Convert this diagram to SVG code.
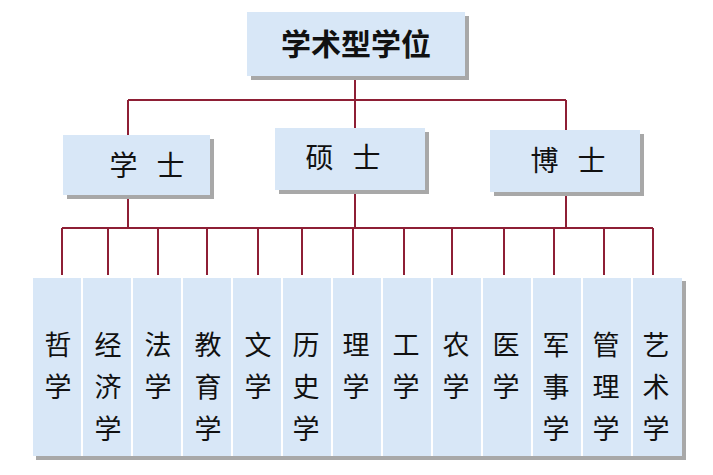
<svg xmlns="http://www.w3.org/2000/svg" width="713" height="475" viewBox="0 0 713 475">
<defs><style>
.b{fill:#d8e7f7}
.s{fill:#a8a8a8}
.c line{stroke:#8e1f35;stroke-width:2}
text{font-family:"Noto Sans CJK SC",sans-serif;fill:#111;text-anchor:middle}
.t{font-size:30px;font-weight:bold}
.m{font-size:28px}
.l{font-size:27px}
</style></defs>
<rect width="713" height="475" fill="#fff"/>
<g class="c">
<line x1="355" y1="77" x2="355" y2="128"/>
<line x1="128" y1="100" x2="566" y2="100"/>
<line x1="128" y1="100" x2="128" y2="135"/>
<line x1="566" y1="100" x2="566" y2="130"/>
<line x1="128" y1="195" x2="128" y2="228"/>
<line x1="355" y1="190" x2="355" y2="228"/>
<line x1="566" y1="193" x2="566" y2="228"/>
<line x1="62" y1="228" x2="653" y2="228"/>
<line x1="62" y1="228" x2="62" y2="275"/><line x1="108" y1="228" x2="108" y2="275"/><line x1="158" y1="228" x2="158" y2="275"/><line x1="207" y1="228" x2="207" y2="275"/><line x1="258" y1="228" x2="258" y2="275"/><line x1="302" y1="228" x2="302" y2="275"/><line x1="353" y1="228" x2="353" y2="275"/><line x1="404" y1="228" x2="404" y2="275"/><line x1="452" y1="228" x2="452" y2="275"/><line x1="504" y1="228" x2="504" y2="275"/><line x1="554" y1="228" x2="554" y2="275"/><line x1="604" y1="228" x2="604" y2="275"/><line x1="653" y1="228" x2="653" y2="275"/>
</g>
<g id="root"><rect class="s" x="251" y="16" width="218" height="64"/><rect class="b" x="247" y="12" width="218" height="64"/><text class="t" x="356" y="55">学术型学位</text></g>
<g id="xueshi"><rect class="s" x="67" y="139" width="147" height="60"/><rect class="b" x="63" y="135" width="147" height="60"/><text class="m" x="147" y="176" xml:space="preserve">学   士</text></g>
<g id="shuoshi"><rect class="s" x="279" y="132" width="150" height="62"/><rect class="b" x="275" y="128" width="150" height="62"/><text class="m" x="343" y="168" xml:space="preserve">硕   士</text></g>
<g id="boshi"><rect class="s" x="494" y="134" width="150" height="62"/><rect class="b" x="490" y="130" width="150" height="62"/><text class="m" x="568" y="171" xml:space="preserve">博   士</text></g>
<g id="leaves">
<rect class="s" x="36" y="456" width="649" height="4"/>
<rect class="s" x="682" y="281" width="4" height="179"/>
<g id="l1"><rect class="b" x="33" y="278" width="48" height="178"/><text class="l" x="58" y="355">哲</text><text class="l" x="58" y="397">学</text></g>
<g id="l2"><rect class="b" x="83" y="278" width="48" height="178"/><text class="l" x="108" y="355">经</text><text class="l" x="108" y="397">济</text><text class="l" x="108" y="439">学</text></g>
<g id="l3"><rect class="b" x="133" y="278" width="48" height="178"/><text class="l" x="158" y="355">法</text><text class="l" x="158" y="397">学</text></g>
<g id="l4"><rect class="b" x="183" y="278" width="48" height="178"/><text class="l" x="208" y="355">教</text><text class="l" x="208" y="397">育</text><text class="l" x="208" y="439">学</text></g>
<g id="l5"><rect class="b" x="233" y="278" width="48" height="178"/><text class="l" x="258" y="355">文</text><text class="l" x="258" y="397">学</text></g>
<g id="l6"><rect class="b" x="283" y="278" width="48" height="178"/><text class="l" x="306" y="355">历</text><text class="l" x="306" y="397">史</text><text class="l" x="306" y="439">学</text></g>
<g id="l7"><rect class="b" x="333" y="278" width="48" height="178"/><text class="l" x="356" y="355">理</text><text class="l" x="356" y="397">学</text></g>
<g id="l8"><rect class="b" x="383" y="278" width="48" height="178"/><text class="l" x="406" y="355">工</text><text class="l" x="406" y="397">学</text></g>
<g id="l9"><rect class="b" x="433" y="278" width="48" height="178"/><text class="l" x="456" y="355">农</text><text class="l" x="456" y="397">学</text></g>
<g id="l10"><rect class="b" x="483" y="278" width="48" height="178"/><text class="l" x="506" y="355">医</text><text class="l" x="506" y="397">学</text></g>
<g id="l11"><rect class="b" x="533" y="278" width="48" height="178"/><text class="l" x="556" y="355">军</text><text class="l" x="556" y="397">事</text><text class="l" x="556" y="439">学</text></g>
<g id="l12"><rect class="b" x="583" y="278" width="48" height="178"/><text class="l" x="606" y="355">管</text><text class="l" x="606" y="397">理</text><text class="l" x="606" y="439">学</text></g>
<g id="l13"><rect class="b" x="633" y="278" width="49" height="178"/><text class="l" x="656" y="355">艺</text><text class="l" x="656" y="397">术</text><text class="l" x="656" y="439">学</text></g>
</g>
</svg>
